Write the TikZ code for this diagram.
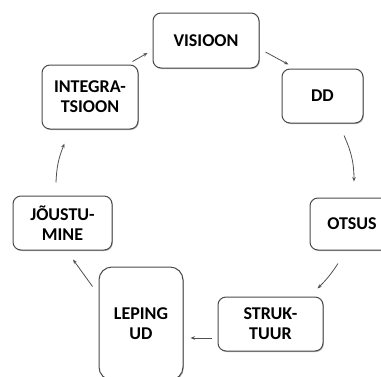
\documentclass[tikz,border=0pt]{standalone}
\usepackage{fontspec}
\setmainfont{Carlito}
\usetikzlibrary{arrows.meta,shadows}
\definecolor{edge}{HTML}{4A4A4A}
\definecolor{link}{HTML}{505050}
\begin{document}
\begin{tikzpicture}[x=1pt,y=-1pt,
  stage/.style={draw=edge,line width=1pt,fill=white,rounded corners=8pt,
    align=center,inner sep=0pt,
    font=\fontsize{18}{20}\selectfont\bfseries,
    drop shadow={shadow xshift=0.8pt,shadow yshift=-1pt,opacity=0.3,fill=black}},
  link/.style={draw=link,line width=0.8pt,-{Stealth[length=4.5pt,width=3.5pt]}}]
\useasboundingbox (0,0) rectangle (381,376);
\begin{scope}
\clip (0,0) rectangle (381,376);
% the seven stages of the cycle
\node[stage,minimum width=106pt,minimum height=55pt] (visioon) at (206,40.5) {VISIOON};
\node[stage,minimum width=81pt,minimum height=54pt] (dd) at (322.5,96) {DD};
\node[stage,minimum width=84pt,minimum height=52pt] (otsus) at (352,224) {OTSUS};
\node[stage,minimum width=105pt,minimum height=54pt] (struk) at (270.5,324) {STRUK-\\TUUR};
\node[stage,rounded corners=13pt,minimum width=84pt,minimum height=113pt] (leping) at (141,323.5) {LEPING\\UD};
\node[stage,minimum width=99pt,minimum height=54pt] (jous) at (62.5,223) {JÕUSTU-\\MINE};
\node[stage,minimum width=96pt,minimum height=64pt] (integ) at (90,97) {INTEGRA-\\TSIOON};
\end{scope}
% connectors, running clockwise
\draw[link] ([xshift=-6pt,yshift=3pt]integ.north east) -- ([xshift=-5pt,yshift=-12.5pt]visioon.west);
\draw[link] ([xshift=6pt,yshift=-11.5pt]visioon.east) -- ([xshift=7pt,yshift=4pt]dd.north west);
\draw[link] ([xshift=21.5pt,yshift=-12pt]dd.south) to[bend left=12] ([xshift=2pt,yshift=16pt]otsus.north);
\draw[link] ([xshift=-14pt,yshift=-13pt]otsus.south) to[bend left=6] ([xshift=-6pt,yshift=8pt]struk.north east);
\draw[link] ([xshift=-6pt,yshift=-14pt]struk.west) -- ([xshift=7pt,yshift=-14.5pt]leping.east);
\draw[link] ([xshift=-6pt,yshift=-20pt]leping.north west) -- ([xshift=10.5pt,yshift=-9pt]jous.south);
\draw[link] ([xshift=-6.5pt,yshift=13pt]jous.north) to[bend left=10] ([xshift=23pt,yshift=-14pt]integ.south west);
\end{tikzpicture}
\end{document}
